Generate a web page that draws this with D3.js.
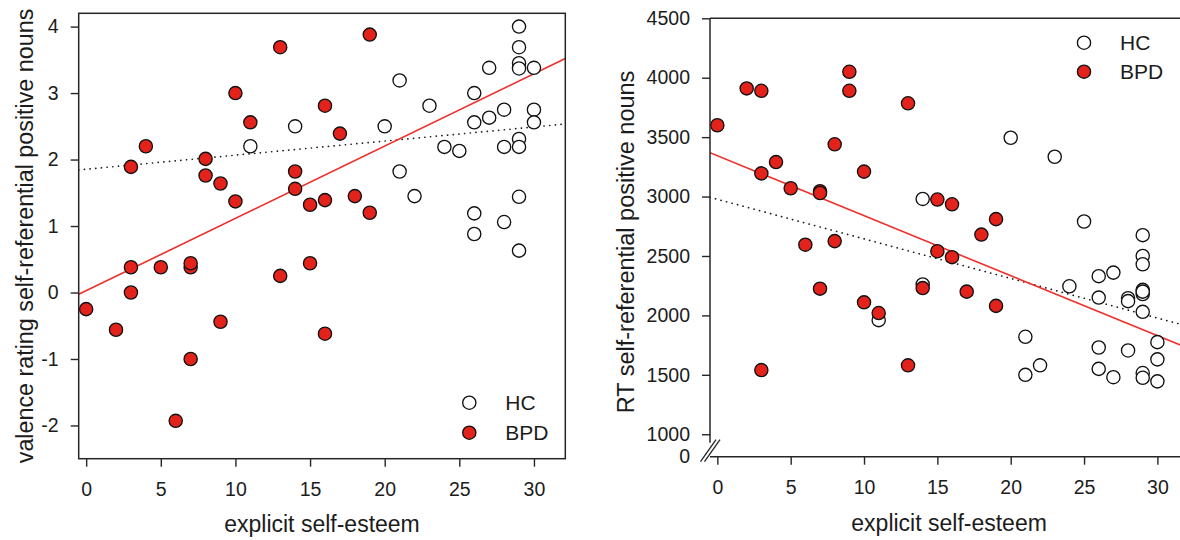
<!DOCTYPE html>
<html><head><meta charset="utf-8">
<script src="https://cdn.jsdelivr.net/npm/d3@7"></script>
<style>
body{margin:0;background:#fff}
svg text{font-family:"Liberation Sans",Arial,Helvetica,sans-serif;fill:#1c1c1c}
</style>
</head><body>
<svg id="chart" width="1180" height="540"></svg>
<script>
// ---------- data ----------
const xTicks = [0, 5, 10, 15, 20, 25, 30];
const valenceTicks = [-2, -1, 0, 1, 2, 3, 4];
const rtTicks = [1000, 1500, 2000, 2500, 3000, 3500, 4000, 4500];
const rtBreakLabel = "0";
const groups = ["HC", "BPD"];

// Panel A: valence rating
const hcEsteemA  = [11, 14, 20, 21, 21, 22, 23, 24, 25, 26, 26, 26, 26, 27, 27, 28, 28, 28, 29, 29, 29, 29, 29, 29, 29, 29, 30, 30, 30];
const hcValence  = [2.2, 2.5, 2.5, 3.19, 1.82, 1.45, 2.81, 2.19, 2.13, 3.0, 2.56, 1.19, 0.88, 3.38, 2.63, 2.75, 2.19, 1.06, 4.0, 3.69, 3.45, 3.37, 2.31, 2.19, 1.44, 0.63, 3.38, 2.75, 2.56];
const bpdEsteemA = [0, 2, 3, 3, 3, 4, 5, 6, 7, 7, 7, 8, 8, 9, 9, 10, 10, 11, 13, 13, 14, 14, 15, 15, 16, 16, 16, 17, 18, 19, 19];
const bpdValence = [-0.25, -0.56, 0.0, 0.38, 1.89, 2.2, 0.38, -1.93, -1.0, 0.38, 0.44, 2.01, 1.76, 1.64, -0.44, 3.0, 1.37, 2.56, 3.69, 0.25, 1.82, 1.56, 1.32, 0.44, 2.81, 1.39, -0.62, 2.39, 1.45, 3.88, 1.2];
const fitValenceBPD = [0.027, 0.1088];   // intercept, slope (solid red)
const fitValenceHC  = [1.854, 0.0212];   // intercept, slope (dotted)

// Panel B: reaction time
const hcEsteemB  = [11, 14, 14, 20, 21, 21, 22, 23, 24, 25, 26, 26, 26, 26, 27, 27, 28, 28, 28, 29, 29, 29, 29, 29, 29, 29, 29, 29, 30, 30, 30];
const hcRT       = [1960, 2980, 2260, 3495, 1820, 1500, 1580, 3335, 2245, 2790, 2330, 2150, 1730, 1550, 2360, 1480, 2145, 2120, 1705, 2675, 2500, 2430, 2215, 2180, 2030, 1515, 1475, 2200, 1775, 1630, 1445];
const bpdEsteemB = [0, 2, 3, 3, 3, 4, 5, 6, 7, 7, 7, 8, 8, 9, 9, 10, 10, 11, 13, 13, 14, 15, 15, 16, 16, 17, 18, 19, 19];
const bpdRT      = [3600, 3910, 3890, 3195, 1540, 3290, 3070, 2595, 3045, 3030, 2225, 3440, 2625, 4050, 3890, 3210, 2110, 2020, 3785, 1580, 2230, 2975, 2540, 2935, 2490, 2200, 2680, 2810, 2080];
const fitRTBPD = [3344, -50.5];
const fitRTHC  = [2977, -33.3];

// ---------- style ----------
const RED = "#e3231b", RED_LINE = "#ef2f2a", INK = "#262626";
const R = 6.6;
const svg = d3.select("#chart");

function dots(g, xs, ys, x, y, fill) {
  g.selectAll(null).data(xs.map((v, i) => [v, ys[i]])).join("circle")
    .attr("cx", d => x(d[0])).attr("cy", d => y(d[1])).attr("r", R)
    .attr("fill", fill).attr("stroke", "#111").attr("stroke-width", 1.35);
}
function fitLine(g, fit, x, y, style) {
  const [a, b] = fit, d0 = x.domain();
  const l = g.append("line")
    .attr("x1", x(d0[0])).attr("y1", y(a + b * d0[0]))
    .attr("x2", x(d0[1])).attr("y2", y(a + b * d0[1]));
  if (style === "solid") l.attr("stroke", RED_LINE).attr("stroke-width", 1.6);
  else l.attr("stroke", "#1a1a1a").attr("stroke-width", 1.7).attr("stroke-dasharray", "0.1,5.6").attr("stroke-linecap", "round");
}
function styleAxis(g, size) {
  g.select(".domain").remove();
  g.selectAll(".tick line").attr("stroke", INK).attr("stroke-width", 1.4);
  g.selectAll(".tick text").attr("font-size", size).attr("fill", "#1c1c1c")
    .style("font-family", '"Liberation Sans", Arial, sans-serif');
}
function legend(g, lx, ly, gap) {
  groups.forEach((name, i) => {
    g.append("circle").attr("cx", lx).attr("cy", ly + i * gap).attr("r", R)
      .attr("fill", i ? RED : "#fff").attr("stroke", "#111").attr("stroke-width", 1.35);
    g.append("text").attr("x", lx + 36).attr("y", ly + i * gap).attr("dy", "0.36em")
      .attr("font-size", 21).text(name);
  });
}

// ---------- Panel A ----------
{
  const x = d3.scaleLinear().domain([-0.5, 32.1]).range([78.7, 565.3]);
  const y = d3.scaleLinear().domain([-2.5, 4.2]).range([458.7, 13.3]);
  const g = svg.append("g");
  g.append("clipPath").attr("id", "clipA").append("rect")
    .attr("x", x.range()[0]).attr("y", y.range()[1])
    .attr("width", x.range()[1] - x.range()[0]).attr("height", y.range()[0] - y.range()[1]);

  g.append("g").attr("transform", `translate(0,${y.range()[0]})`)
    .call(d3.axisBottom(x).tickValues(xTicks).tickSize(8).tickPadding(15).tickSizeOuter(0))
    .call(a => styleAxis(a, 19.5));
  g.append("g").attr("transform", `translate(${x.range()[0]},0)`)
    .call(d3.axisLeft(y).tickValues(valenceTicks).tickFormat(d3.format("d")).tickSize(8).tickPadding(12).tickSizeOuter(0))
    .call(a => styleAxis(a, 19.5));
  g.selectAll(".tick text").filter(function(){return this.textContent.includes("−");})
    .text(function(){return this.textContent.replace("−","-");});

  const p = g.append("g").attr("clip-path", "url(#clipA)");
  fitLine(p, fitValenceHC, x, y, "dotted");
  fitLine(p, fitValenceBPD, x, y, "solid");
  dots(p, hcEsteemA, hcValence, x, y, "#fff");
  dots(p, bpdEsteemA, bpdValence, x, y, RED);

  g.append("rect").attr("x", x.range()[0]).attr("y", y.range()[1])
    .attr("width", x.range()[1] - x.range()[0]).attr("height", y.range()[0] - y.range()[1])
    .attr("fill", "none").attr("stroke", INK).attr("stroke-width", 1.5);

  legend(g, x.range()[1] - 96, y.range()[0] - 56, 30);

  g.append("text").attr("x", (x.range()[0] + x.range()[1]) / 2).attr("y", 532)
    .attr("text-anchor", "middle").attr("font-size", 23).text("explicit self-esteem");
  g.append("text").attr("transform", `translate(33,${(y.range()[0] + y.range()[1]) / 2}) rotate(-90)`)
    .attr("text-anchor", "middle").attr("font-size", 23.3).text("valence rating self-referential positive nouns");
}

// ---------- Panel B ----------
{
  const x = d3.scaleLinear().domain([-0.5, 32.1]).range([710, 1188.2]);
  const y = d3.scaleLinear().domain([811, 4500]).range([456.7, 18.3]);
  const g = svg.append("g");
  const x0 = x.range()[0], yb = y.range()[0], yt = y.range()[1];
  g.append("clipPath").attr("id", "clipB").append("rect")
    .attr("x", x0).attr("y", yt).attr("width", x.range()[1] - x0).attr("height", yb - yt);

  g.append("g").attr("transform", `translate(0,${yb})`)
    .call(d3.axisBottom(x).tickValues(xTicks).tickSize(8).tickPadding(15).tickSizeOuter(0))
    .call(a => styleAxis(a, 19.5));
  g.append("g").attr("transform", `translate(${x0},0)`)
    .call(d3.axisLeft(y).tickValues(rtTicks).tickFormat(d3.format("d")).tickSize(8).tickPadding(12).tickSizeOuter(0))
    .call(a => styleAxis(a, 19.5));
  g.append("text").attr("x", x0 - 20).attr("y", yb).attr("dy", "0.32em")
    .attr("text-anchor", "end").attr("font-size", 19.5).text(rtBreakLabel);

  const p = g.append("g").attr("clip-path", "url(#clipB)");
  fitLine(p, fitRTHC, x, y, "dotted");
  fitLine(p, fitRTBPD, x, y, "solid");
  dots(p, hcEsteemB, hcRT, x, y, "#fff");
  dots(p, bpdEsteemB, bpdRT, x, y, RED);

  // frame: top, left (broken), bottom
  g.append("line").attr("x1", x0).attr("x2", 1180).attr("y1", yt).attr("y2", yt).attr("stroke", INK).attr("stroke-width", 1.5);
  g.append("line").attr("x1", x0).attr("x2", 1180).attr("y1", yb).attr("y2", yb).attr("stroke", INK).attr("stroke-width", 1.5);
  g.append("line").attr("x1", x0).attr("x2", x0).attr("y1", yt).attr("y2", yb - 14).attr("stroke", INK).attr("stroke-width", 1.5);
  // axis break marks "//"
  const bk = g.append("g");
  bk.append("path").attr("d", `M${x0 - 9.5},${yb + 5} L${x0 + 6},${yb - 17} L${x0 + 10},${yb - 17} L${x0 - 5.5},${yb + 5} Z`)
    .attr("fill", "#fff").attr("stroke", "none");
  [[-9.5, 6], [-5.5, 10]].forEach(([a, b]) => bk.append("line")
    .attr("x1", x0 + a).attr("y1", yb + 5).attr("x2", x0 + b).attr("y2", yb - 17)
    .attr("stroke", INK).attr("stroke-width", 1.3));

  legend(g, 1084, 42.7, 29);

  g.append("text").attr("x", (x0 + x.range()[1]) / 2).attr("y", 531)
    .attr("text-anchor", "middle").attr("font-size", 23).text("explicit self-esteem");
  g.append("text").attr("transform", `translate(634,242) rotate(-90)`)
    .attr("text-anchor", "middle").attr("font-size", 23.5).text("RT self-referential positive nouns");
}
</script>
</body></html>
